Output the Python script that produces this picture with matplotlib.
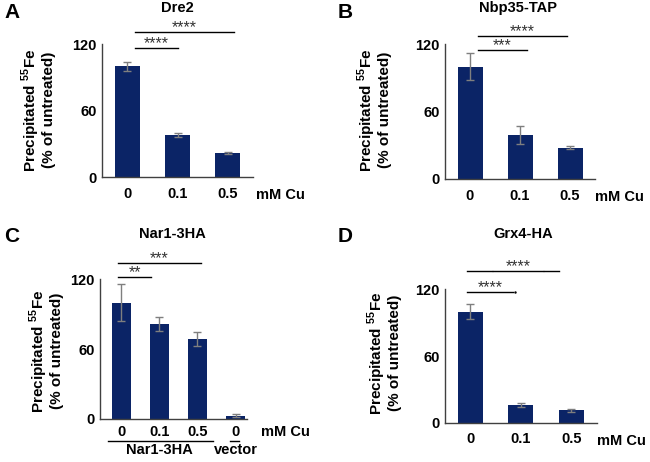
import matplotlib
matplotlib.use("Agg")
import matplotlib.pyplot as plt

plt.rcParams['font.family'] = ['Liberation Sans', 'DejaVu Sans']
plt.rcParams['font.weight'] = 'bold'
plt.rcParams['mathtext.fontset'] = 'custom'
plt.rcParams['mathtext.rm'] = 'Liberation Sans:bold'
plt.rcParams['mathtext.bf'] = 'Liberation Sans:bold'

# ---------------- data ----------------
dre2_labels = ['0', '0.1', '0.5']
dre2_vals = [100, 38, 22]
dre2_err = [4, 2, 1]

nbp_labels = ['0', '0.1', '0.5']
nbp_vals = [100, 39.5, 28]
nbp_err = [12, 8, 1]

nar_labels = ['0', '0.1', '0.5', '0']
nar_vals = [100, 82, 69, 3]
nar_err = [16, 6, 6, 1]

grx_labels = ['0', '0.1', '0.5']
grx_vals = [100, 16, 11]
grx_err = [7, 1.5, 1]

BAR = '#0b2466'
W, H = 650, 462

fig = plt.figure(figsize=(6.5, 4.62), dpi=100)

def box(l, t, r, b):
    return [l / W, 1 - b / H, (r - l) / W, (b - t) / H]

def px(x, y):
    return x / W, 1 - y / H

def panel(rect, labels, vals, err, xlim, pad):
    ax = fig.add_axes(rect)
    xs = list(range(len(vals)))
    ax.bar(xs, vals, width=0.5, color=BAR, zorder=2)
    ax.errorbar(xs, vals, yerr=err, fmt='none', ecolor='#7f7f7f',
                elinewidth=1, capsize=3, capthick=1, zorder=3)
    ax.set_xlim(*xlim)
    ax.set_ylim(0, 120)
    ax.set_yticks([0, 60, 120])
    ax.set_xticks(xs)
    ax.set_xticklabels(labels)
    ax.tick_params(axis='both', length=0, labelsize=10.5)
    ax.tick_params(axis='y', pad=4)
    ax.tick_params(axis='x', pad=pad)
    for s in ['top', 'right']:
        ax.spines[s].set_visible(False)
    for s in ['left', 'bottom']:
        ax.spines[s].set_color('#404040')
        ax.spines[s].set_linewidth(1)
    return ax

def sig(ax, x1, x2, y, stars):
    ax.plot([x1, x2], [y, y], color='black', lw=1, clip_on=False)
    ax.annotate(stars, ((x1 + x2) / 2, y), xytext=(0, 3.2),
                textcoords='offset points', ha='center', va='center',
                fontsize=11.5, fontweight='normal', color='#333333',
                annotation_clip=False)

def unit(ax, x, dy):
    ax.text(x, dy, 'mM Cu', transform=ax.get_xaxis_transform(),
            ha='left', va='center', fontsize=10.5)

ylab = 'Precipitated $^{55}$Fe\n(% of untreated)'

def ylabel(x, y):
    fig.text(*px(x, y), ylab, rotation=90, ha='center', va='center',
             fontsize=11, multialignment='center', linespacing=1.05)

# A
axA = panel(box(102, 44, 253, 177), dre2_labels, dre2_vals, dre2_err, (-0.5, 2.5), 7)
sig(axA, 0.16, 1.01, 116.7, '****')
sig(axA, 0.16, 2.12, 131, '****')
unit(axA, 2.55, -0.135)
fig.text(*px(177, 8), 'Dre2', ha='center', va='center', fontsize=10.5)
fig.text(*px(12, 12), 'A', ha='center', va='center', fontsize=15)
ylabel(38, 110)

# B
axB = panel(box(445, 44, 595, 179), nbp_labels, nbp_vals, nbp_err, (-0.5, 2.5), 7)
sig(axB, 0.15, 1.14, 114.3, '***')
sig(axB, 0.15, 1.93, 127.4, '****')
unit(axB, 2.5, -0.13)
fig.text(*px(518, 8), 'Nbp35-TAP', ha='center', va='center', fontsize=10.5)
fig.text(*px(345, 12), 'B', ha='center', va='center', fontsize=15)
ylabel(374, 110)

# C
axC = panel(box(100, 279.3, 247, 419), nar_labels, nar_vals, nar_err, (-0.56, 3.3), 4)
sig(axC, -0.08, 0.79, 122.3, '**')
sig(axC, -0.08, 2.08, 133.8, '***')
unit(axC, 3.67, -0.095)
tr = axC.get_xaxis_transform()
axC.plot([-0.35, 2.4], [-0.157, -0.157], color='black', lw=1, transform=tr, clip_on=False)
axC.plot([2.86, 3.09], [-0.157, -0.157], color='black', lw=1, transform=tr, clip_on=False)
axC.text(1.0, -0.225, 'Nar1-3HA', transform=tr, ha='center', va='center', fontsize=10.5)
axC.text(3.0, -0.225, 'vector', transform=tr, ha='center', va='center', fontsize=10.5)
fig.text(*px(172, 234), 'Nar1-3HA', ha='center', va='center', fontsize=10.5)
fig.text(*px(12, 236), 'C', ha='center', va='center', fontsize=15)
ylabel(46, 351)

# D
axD = panel(box(445, 289.3, 596.7, 422.7), grx_labels, grx_vals, grx_err, (-0.5, 2.5), 7)
sig(axD, -0.06, 0.85, 117.9, '****')
axD.plot([0.89], [117.9], marker='.', ms=1.5, color='black', clip_on=False)
axD.plot([-0.06, 0.42], [136.8, 136.8], color='black', lw=1, clip_on=False)
sig(axD, 0.45, 1.43, 136.8, '****')
axD.plot([1.46, 1.75], [136.8, 136.8], color='black', lw=1, clip_on=False)
unit(axD, 2.5, -0.14)
fig.text(*px(523, 234), 'Grx4-HA', ha='center', va='center', fontsize=10.5)
fig.text(*px(345, 236), 'D', ha='center', va='center', fontsize=15)
ylabel(384, 353)

fig.savefig('out.png', dpi=100)
